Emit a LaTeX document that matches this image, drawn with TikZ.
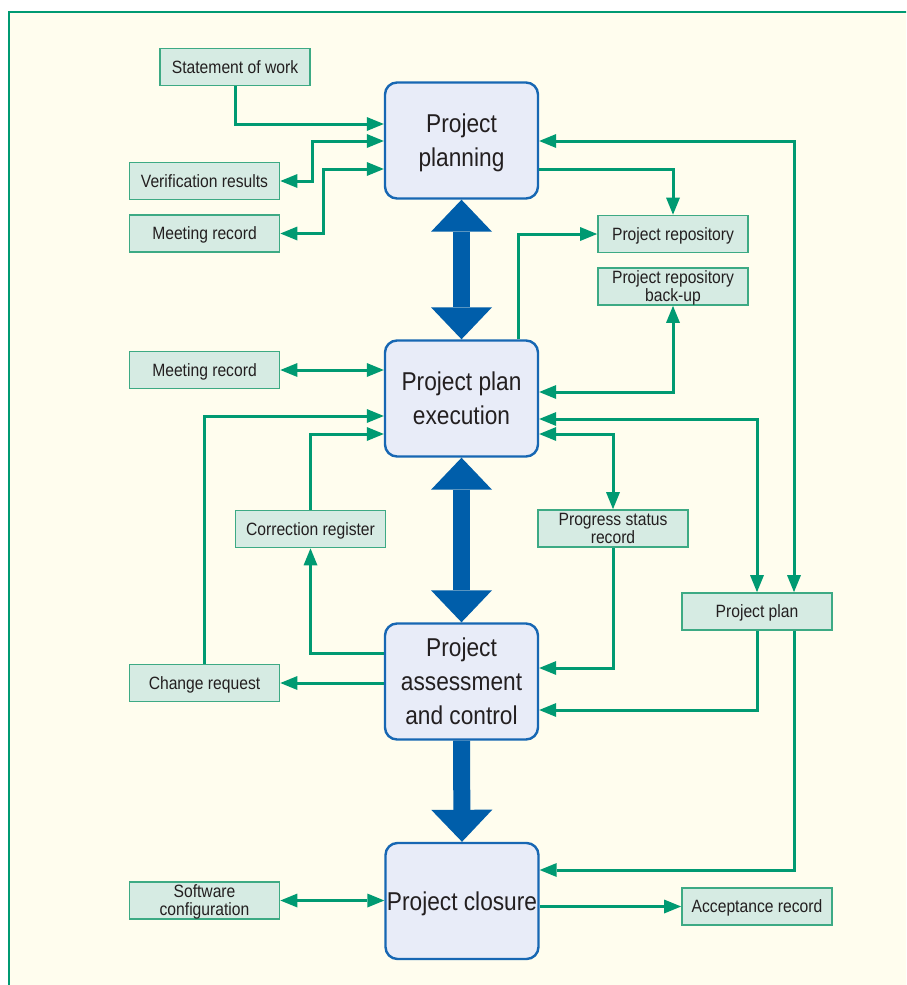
\documentclass[tikz,border=0pt]{standalone}
\usepackage{fontspec}
\setmainfont{Liberation Sans}[FakeStretch=0.88]
\usetikzlibrary{arrows.meta}
\definecolor{bg}{HTML}{FFFDEE}
\definecolor{grn}{HTML}{009A72}
\definecolor{boxfill}{HTML}{D6EBE3}
\definecolor{boxline}{HTML}{3DAA84}
\definecolor{bigfill}{HTML}{E8ECF8}
\definecolor{bigline}{HTML}{1767B3}
\definecolor{blu}{HTML}{005EAA}
\definecolor{txt}{HTML}{231F20}
\begin{document}
\begin{tikzpicture}[x=1pt,y=-1pt,
 smallbox/.style={draw=boxline, line width=1.8pt, fill=boxfill, minimum width=150pt, minimum height=37pt, inner sep=0pt, text depth=0pt, align=center, text=txt, font=\fontsize{17.8}{18}\selectfont},
 bigbox/.style={draw=bigline, line width=2.4pt, fill=bigfill, rounded corners=12pt, minimum width=153pt, minimum height=116pt, inner sep=0pt, text depth=0pt, align=center, text=txt, font=\fontsize{25.8}{34}\selectfont},
 gtip/.tip={Triangle[length=17pt,width=14pt,line width=0pt]},
 btip/.tip={Triangle[length=32pt,width=61pt,line width=0pt]},
 conn/.style={draw=grn, line width=3pt, -gtip},
 biconn/.style={draw=grn, line width=3pt, gtip-gtip},
 bigarr/.style={draw=blu, line width=17pt, -btip},
 bigdbl/.style={draw=blu, line width=17pt, btip-btip},
]
\useasboundingbox (0,0) rectangle (906,985);
\clip (0,0) rectangle (906,985);
\fill[white] (0,0) rectangle (906,985);
\draw[grn, line width=2.8pt, fill=bg] (9,12) rectangle (930,1010);

% main boxes
\node[bigbox] (plan) at (461.5,140.5) {Project\\planning};
\node[bigbox] (exec) at (461.5,398.5) {Project plan\\execution};
\node[bigbox] (assess) at (461.5,681.5) {Project\\assessment\\and control};
\node[bigbox] (close) at (462,901) {Project closure};

% small boxes
\node[smallbox] (sow) at (235,67) {Statement of work};
\node[smallbox] (ver) at (204.5,181) {Verification results};
\node[smallbox] (mr1) at (204.5,233.5) {Meeting record};
\node[smallbox] (repo) at (673,234) {Project repository};
\node[smallbox] (backup) at (673,286.5) {Project repository\\back-up};
\node[smallbox] (mr2) at (204.5,370) {Meeting record};
\node[smallbox] (corr) at (310.5,529) {Correction register};
\node[smallbox] (psr) at (613,528.5) {Progress status\\record};
\node[smallbox] (pp) at (757,611.5) {Project plan};
\node[smallbox] (chg) at (204.5,683) {Change request};
\node[smallbox] (sw) at (204.5,900.5) {Software\\configuration};
\node[smallbox] (acc) at (757,906.5) {Acceptance record};

% big blue arrows
\draw[bigdbl] (plan.south) -- (exec.north);
\draw[bigdbl] (exec.south) -- (assess.north);
\draw[bigarr] (assess.south) -- (close.north);

% green connectors
\draw[conn] (sow.south) |- (plan.west |- 0,124);
\draw[biconn] (ver.east) -| (312,141) -- (plan.west |- 0,141);
\draw[biconn] (mr1.east) -| (323,169) -- (plan.west |- 0,169);
\draw[biconn] (plan.east |- 0,141) -| ([xshift=37pt]pp.north);
\draw[conn] (plan.east |- 0,169) -| (repo.north);
\draw[conn] (exec.north -| 518,0) |- (repo.west);
\draw[biconn] (exec.east |- 0,392) -| (backup.south);
\draw[biconn] (exec.east |- 0,419) -| (pp.north);
\draw[biconn] (exec.east |- 0,434) -| (psr.north);
\draw[biconn] (mr2.east) -- (exec.west |- mr2.east);
\draw[conn] (chg.north) |- (exec.west |- 0,416);
\draw[conn] (corr.north) |- (exec.west |- 0,434);
\draw[conn] (assess.west |- 0,653) -| (corr.south);
\draw[conn] (assess.west |- chg.east) -- (chg.east);
\draw[conn] (psr.south) |- (assess.east |- 0,668);
\draw[conn] (pp.south) |- (assess.east |- 0,710);
\draw[conn] ([xshift=37pt]pp.south) |- (close.east |- 0,870);
\draw[biconn] (sw.east) -- (close.west |- sw.east);
\draw[conn] (close.east |- acc.west) -- (acc.west);
\end{tikzpicture}
\end{document}
